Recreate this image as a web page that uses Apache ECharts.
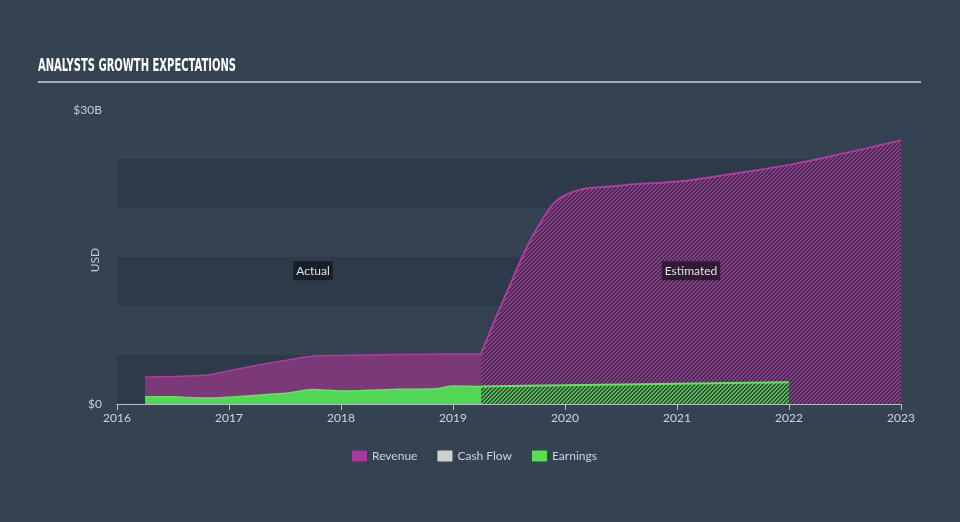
<!DOCTYPE html>
<html>
<head>
<meta charset="utf-8">
<script src="https://cdn.jsdelivr.net/npm/echarts@6/dist/echarts.min.js"></script>
<style>
html,body{margin:0;padding:0;background:#344252;}
#chart{width:960px;height:522px;}
</style>
</head>
<body>
<div id="chart"></div>
<script>
// ---- data (x in decimal years, y in $B) ----
const revenueActualX = [2016.25, 2016.5, 2016.8, 2017.0, 2017.25, 2017.5, 2017.75, 2018.0, 2018.5, 2019.0, 2019.25];
const revenueActualY = [2.75, 2.8, 2.95, 3.4, 3.95, 4.45, 4.9, 4.95, 5.05, 5.1, 5.1];
const revenueEstX = [2019.25, 2019.5, 2019.75, 2020.0, 2020.5, 2021.0, 2021.5, 2022.0, 2022.5, 2023.0];
const revenueEstY = [5.1, 11.9, 17.9, 21.3, 22.3, 22.7, 23.5, 24.4, 25.6, 26.9];
const earningsActualX = [2016.25, 2016.5, 2016.8, 2017.25, 2017.5, 2017.75, 2018.0, 2018.5, 2018.85, 2019.0, 2019.25];
const earningsActualY = [0.75, 0.73, 0.6, 0.89, 1.09, 1.47, 1.33, 1.5, 1.56, 1.84, 1.79];
const earningsEstX = [2019.25, 2020.0, 2021.0, 2022.0];
const earningsEstY = [1.79, 1.92, 2.07, 2.22];
const legendNames = ['Revenue', 'Cash Flow', 'Earnings'];
const periodLabels = ['Actual', 'Estimated'];
const periodCenters = [[2017.75, 13.6], [2021.125, 13.6]];

function zip(xs, ys) { return xs.map((x, i) => [x, ys[i]]); }

function hatch(bg, fg) {
  const s = 4;
  const c = document.createElement('canvas');
  c.width = s; c.height = s;
  const ctx = c.getContext('2d');
  const img = ctx.createImageData(s, s);
  const parse = h => [parseInt(h.substr(1,2),16), parseInt(h.substr(3,2),16), parseInt(h.substr(5,2),16)];
  const b = parse(bg), f = parse(fg);
  for (let j = 0; j < s; j++) for (let i = 0; i < s; i++) {
    const col = ((i + j) % s) < 2 ? f : b;
    const k = (j * s + i) * 4;
    img.data[k] = col[0]; img.data[k+1] = col[1]; img.data[k+2] = col[2]; img.data[k+3] = 255;
  }
  ctx.putImageData(img, 0, 0);
  return { image: c, repeat: 'repeat' };
}

const chart = echarts.init(document.getElementById('chart'), null, { renderer: 'canvas' });

// measure title to mimic condensed font
const titleText = 'ANALYSTS GROWTH EXPECTATIONS';
const titleFont = 'bold 18px "DejaVu Sans Condensed", "DejaVu Sans", sans-serif';
const mctx = document.createElement('canvas').getContext('2d');
mctx.font = titleFont;
const titleW = mctx.measureText(titleText).width;
const titleScale = 198 / titleW;

const revColor = '#a8399c';
const uiFont = 'Lato, "Open Sans", sans-serif';
const labelStyle = {
  show: true, color: '#dfe3e8', fontSize: 12, fontFamily: uiFont,
  backgroundColor: 'rgba(22,27,34,0.88)', padding: [4, 3, 3, 3], borderRadius: 1
};

chart.setOption({
  animation: false,
  backgroundColor: '#344252',
  grid: { left: 117, right: 59, top: 110, bottom: 118, containLabel: false },
  graphic: [
    { type: 'text', left: 38, top: 57, scaleX: titleScale, originX: 0,
      style: { text: titleText, font: titleFont, fill: '#ffffff' } },
    { type: 'line', shape: { x1: 38, y1: 82, x2: 921, y2: 82 }, style: { stroke: '#a9afb7', lineWidth: 2 } },
    { type: 'text', x: 95, y: 260, rotation: Math.PI / 2,
      style: { text: 'USD', fill: '#c8ccd2', font: '12px ' + uiFont, align: 'center', verticalAlign: 'middle' } }
  ],
  legend: {
    data: legendNames, top: 445, left: 347, icon: 'rect', itemWidth: 15, itemHeight: 11, itemGap: 20,
    textStyle: { color: '#cfd3d8', fontSize: 12, fontFamily: uiFont },
    selectedMode: false
  },
  xAxis: {
    type: 'value', min: 2016, max: 2023, interval: 1,
    axisLine: { show: true, lineStyle: { color: '#b7bec6', width: 1 } },
    axisTick: { show: true, length: 6, lineStyle: { color: '#b7bec6' } },
    axisLabel: { color: '#d2d6db', fontSize: 12, margin: 8, fontFamily: uiFont, formatter: v => String(v) },
    splitLine: { show: false }
  },
  yAxis: {
    type: 'value', min: 0, max: 30, interval: 5,
    axisLine: { show: false }, axisTick: { show: false },
    axisLabel: { color: '#c8ccd2', fontSize: 12, margin: 15, fontFamily: uiFont,
      formatter: v => v === 0 ? '$0' : (v === 30 ? '$30B' : '') },
    splitLine: { show: false },
    splitArea: { show: true, areaStyle: { color: ['#2d3a4a', 'rgba(0,0,0,0)'] } }
  },
  series: [
    { name: 'Revenue', type: 'line', data: zip(revenueActualX, revenueActualY), showSymbol: false, smooth: 0.2,
      itemStyle: { color: revColor }, lineStyle: { color: '#b23aa2', width: 1.5 },
      areaStyle: { color: '#7b3977', opacity: 1 }, z: 2,
      markPoint: { symbol: 'rect', symbolSize: 0, silent: true,
        data: [{ coord: periodCenters[0], value: periodLabels[0] }],
        label: Object.assign({}, labelStyle, { position: 'inside', formatter: p => p.value }) } },
    { name: 'Revenue', type: 'line', data: zip(revenueEstX, revenueEstY), showSymbol: false, smooth: 0.4,
      itemStyle: { color: revColor }, lineStyle: { color: '#b23aa2', width: 2 },
      areaStyle: { color: hatch('#3f2e4d', '#8f3a8b'), opacity: 1 }, z: 2,
      markPoint: { symbol: 'rect', symbolSize: 0, silent: true,
        data: [{ coord: periodCenters[1], value: periodLabels[1] }],
        label: Object.assign({}, labelStyle, { position: 'inside', formatter: p => p.value, backgroundColor: 'rgba(40,22,42,0.85)' }) } },
    { name: 'Cash Flow', type: 'line', data: [], itemStyle: { color: '#d0d0d0' } },
    { name: 'Earnings', type: 'line', data: zip(earningsActualX, earningsActualY), showSymbol: false, smooth: 0.2,
      itemStyle: { color: '#55e050' }, lineStyle: { color: '#5ee85a', width: 1.5 },
      areaStyle: { color: '#52d655', opacity: 1 }, z: 3 },
    { name: 'Earnings', type: 'line', data: zip(earningsEstX, earningsEstY), showSymbol: false, smooth: 0.2,
      itemStyle: { color: '#55e050' }, lineStyle: { color: '#5ee85a', width: 2 },
      areaStyle: { color: hatch('#3b4a44', '#4cbf48'), opacity: 1 }, z: 3 }
  ]
});
</script>
</body>
</html>
